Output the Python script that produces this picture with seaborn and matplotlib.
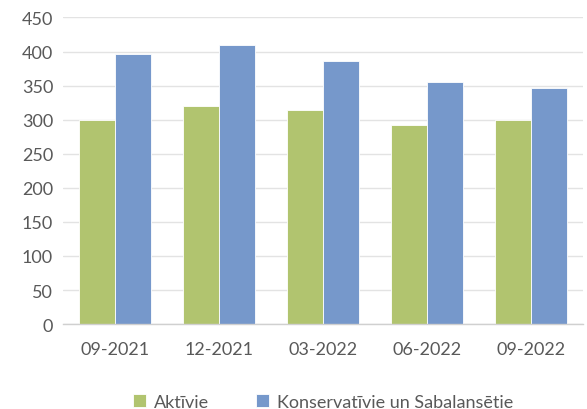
import numpy as np
import pandas as pd
import matplotlib
matplotlib.use("Agg")
import matplotlib.pyplot as plt
import seaborn as sns

# Data
periods = ["09-2021", "12-2021", "03-2022", "06-2022", "09-2022"]
aktivie = [299, 320, 314, 292, 299]
konservativie = [396, 409, 386, 355, 346]
series_names = ["Aktīvie", "Konservatīvie un Sabalansētie"]

df = pd.DataFrame({
    "Periods": periods * 2,
    "Vērtība": aktivie + konservativie,
    "Sērija": [series_names[0]] * len(periods) + [series_names[1]] * len(periods),
})

sns.set_style("white")
plt.rcParams["font.family"] = ["Lato", "DejaVu Sans"]
text_color = "#595959"

fig, ax = plt.subplots(figsize=(5.87, 4.10), dpi=100)
sns.barplot(
    data=df, x="Periods", y="Vērtība", hue="Sērija",
    palette=["#B1C46F", "#7698CB"], width=0.69, saturation=1,
    edgecolor="white", linewidth=0.6, ax=ax,
)

ax.set_ylim(0, 450)
ax.set_yticks(np.arange(0, 451, 50))
ax.set_xlim(-0.5, len(periods) - 0.5)
ax.yaxis.grid(True, color="#E3E3E3", linewidth=1)
ax.set_axisbelow(True)
ax.set_xlabel("")
ax.set_ylabel("")

for side in ["top", "right", "left"]:
    ax.spines[side].set_visible(False)
ax.spines["bottom"].set_color("#D0D0D0")
ax.spines["bottom"].set_linewidth(1)

ax.tick_params(axis="y", length=0, labelsize=13, colors=text_color, pad=7)
ax.tick_params(axis="x", which="major", length=0, labelsize=13, colors=text_color, pad=12)
ax.set_xticks(np.arange(-0.5, len(periods), 1), minor=True)
ax.tick_params(axis="x", which="minor", length=6, color="#D0D0D0", width=1)

ax.legend(
    loc="upper center", bbox_to_anchor=(0.5, -0.175), ncol=2, frameon=False,
    fontsize=13, handlelength=0.75, handleheight=0.75, columnspacing=2.6,
    handletextpad=0.4, labelcolor=text_color,
)

plt.subplots_adjust(left=0.107, right=0.993, top=0.955, bottom=0.207)
plt.savefig("out.png", dpi=100)
plt.close()
